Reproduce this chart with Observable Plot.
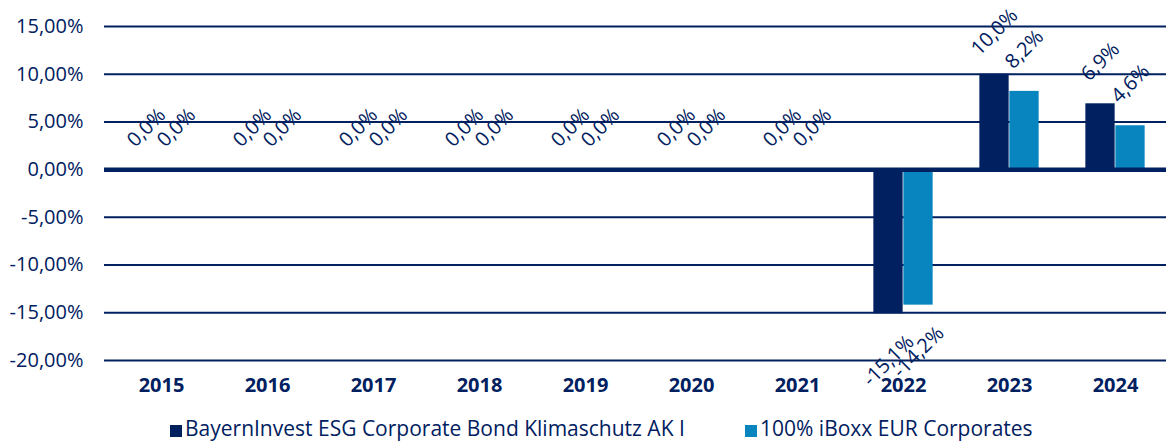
<!DOCTYPE html>
<html><head><meta charset="utf-8">
<script src="https://cdn.jsdelivr.net/npm/d3@7"></script>
<script src="https://cdn.jsdelivr.net/npm/@observablehq/plot@0.6"></script>
<style>
html,body{margin:0;padding:0;background:#fff;overflow:hidden;}
#wrap{position:relative;width:1166px;height:443px;overflow:hidden;font-family:"Open Sans",sans-serif;color:#002060;}
#chart svg{display:block;overflow:hidden;max-width:none !important;}
.item{position:absolute;top:415px;font-size:21px;white-space:nowrap;line-height:26px;}
.sw{display:inline-block;width:12px;height:12px;margin-right:3px;vertical-align:-1px;}
</style></head><body>
<div id="wrap"><div id="chart"></div></div>
<script>
const years = ["2015","2016","2017","2018","2019","2020","2021","2022","2023","2024"];
const seriesNames = ["BayernInvest ESG Corporate Bond Klimaschutz AK I", "100% iBoxx EUR Corporates"];
const fundValues = [0.0, 0.0, 0.0, 0.0, 0.0, 0.0, 0.0, -15.1, 10.0, 6.9];
const indexValues = [0.0, 0.0, 0.0, 0.0, 0.0, 0.0, 0.0, -14.2, 8.2, 4.6];
const yTicks = [-20, -15, -10, -5, 0, 5, 10, 15];
const colors = ["#002060", "#0884bf"];
const navy = "#002060";

const fund = years.map((y, i) => ({year: y, value: fundValues[i]}));
const index = years.map((y, i) => ({year: y, value: indexValues[i]}));
const fmtLabel = v => v.toFixed(1).replace(".", ",") + "%";
const fmtTick = v => v.toFixed(2).replace(".", ",") + "%";

const barW = 30;
const W = 1171, H = 410, mL = 104, mR = 0;
const step = (W - mL - mR) / years.length;
const ins = (step - barW) / 2;

function labels(data, dx) {
  return [
    Plot.text(data.filter(d => d.value >= 0), {x: "year", y: "value", text: d => fmtLabel(d.value), dx, dy: -42, rotate: -45, textAnchor: "middle", fill: navy, fontSize: 20}),
    Plot.text(data.filter(d => d.value < 0), {x: "year", y: "value", text: d => fmtLabel(d.value), dx, dy: 47, rotate: -45, textAnchor: "middle", fill: navy, fontSize: 20})
  ];
}

const chart = Plot.plot({
  width: W, height: H,
  marginLeft: mL, marginRight: mR, marginTop: 26, marginBottom: 50,
  style: {fontFamily: "'Open Sans', sans-serif", fontSize: "20px", color: navy, background: "#fff", maxWidth: "none"},
  x: {domain: years, padding: 0, label: null, tickSize: 0, tickPadding: 17},
  y: {domain: [-20, 15], ticks: yTicks, tickFormat: fmtTick, label: null, tickSize: 0, tickPadding: 21},
  marks: [
    Plot.ruleY(yTicks.filter(t => t !== 0), {stroke: navy, strokeWidth: 2}),
    Plot.barY(fund, {x: "year", y: "value", fill: colors[0], insetLeft: ins, insetRight: ins, dx: -barW / 2}),
    Plot.barY(index, {x: "year", y: "value", fill: colors[1], insetLeft: ins, insetRight: ins, dx: barW / 2}),
    Plot.ruleY([0], {stroke: navy, strokeWidth: 4.5}),
    ...labels(fund, -barW / 2),
    ...labels(index, barW / 2)
  ]
});
d3.select(chart).selectAll("g[aria-label='x-axis tick label']").attr("font-weight", "bold");
document.getElementById("chart").appendChild(chart);

const wrap = document.getElementById("wrap");
const legendLeft = [170, 745];
seriesNames.forEach((name, i) => {
  const d = document.createElement("div");
  d.className = "item";
  d.style.left = legendLeft[i] + "px";
  d.innerHTML = `<span class="sw" style="background:${colors[i]}"></span>${name}`;
  wrap.appendChild(d);
});
</script></body></html>
